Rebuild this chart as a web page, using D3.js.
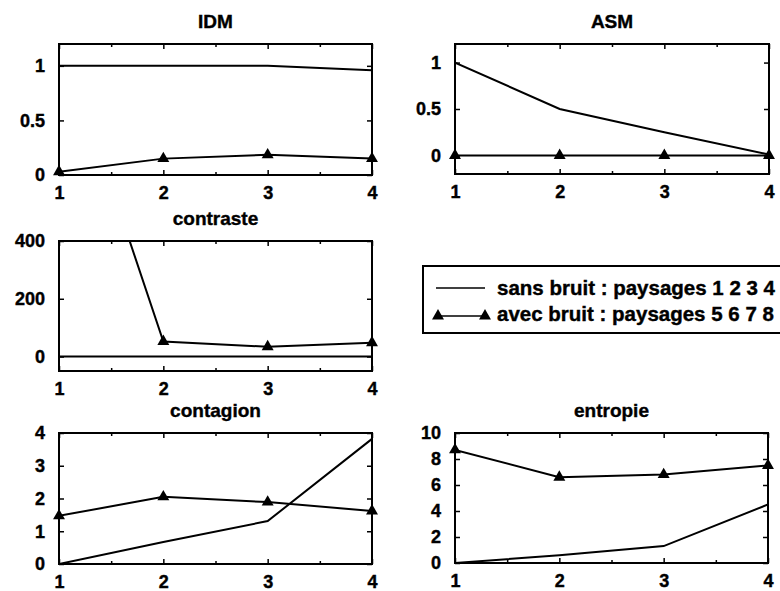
<!DOCTYPE html>
<html>
<head>
  <meta charset="utf-8">
  <title>Indices de texture</title>
  <script src="https://cdn.jsdelivr.net/npm/d3@7"></script>
  <style type="text/css">
    body {
      margin: 0;
      background: white;
    }
    svg {
      font-family: "Liberation Sans", Arial, Helvetica, sans-serif;
      font-weight: bold;
    }
    svg text {
      stroke: black;
      stroke-width: 0.4px;
    }
    .tick text {
      font-size: 18px;
      fill: black;
    }
    .tick line {
      stroke: black;
      stroke-width: 1.5;
    }
  </style>
</head>
<body>
  <div id="chart"></div>

  <script type="text/javascript">
    // x values (paysages)
    var xValues = [1, 2, 3, 4];

    var idmSans = [1, 1, 1, 0.96];
    var idmAvec = [0.03, 0.15, 0.185, 0.15];
    var asmSans = [1, 0.5, 0.25, 0.01];
    var asmAvec = [0, 0, 0, 0];
    var contrasteSans = [0, 0, 0, 0];
    var contrasteAvec = [1130, 52, 34, 48];
    var contagionSans = [0, 0.67, 1.31, 3.82];
    var contagionAvec = [1.47, 2.05, 1.89, 1.62];
    var entropieSans = [0, 0.6, 1.3, 4.5];
    var entropieAvec = [8.7, 6.6, 6.8, 7.5];

    // y tick labels
    var idmTicks = [0, 0.5, 1];
    var asmTicks = [0, 0.5, 1];
    var contrasteTicks = [0, 200, 400];
    var contagionTicks = [0, 1, 2, 3, 4];
    var entropieTicks = [0, 2, 4, 6, 8, 10];

    var legendSans = "sans bruit : paysages 1 2 3 4";
    var legendAvec = "avec bruit : paysages 5 6 7 8";

    var svg = d3.select("#chart").append("svg")
      .attr("width", 780)
      .attr("height", 591);

    var tri = d3.symbol().type(d3.symbolTriangle).size(62);

    function drawPanel(id, title, box, yDomain, yTicks, sans, avec) {
      var x = d3.scaleLinear().domain([1, 4]).range([box.left, box.right]);
      var y = d3.scaleLinear().domain(yDomain).range([box.bottom, box.top]);

      var g = svg.append("g").attr("class", "panel");

      g.append("clipPath").attr("id", "clip-" + id)
        .append("rect")
        .attr("x", box.left).attr("y", box.top)
        .attr("width", box.right - box.left)
        .attr("height", box.bottom - box.top);

      // title
      g.append("text")
        .attr("x", (box.left + box.right) / 2)
        .attr("y", box.top - 16)
        .attr("text-anchor", "middle")
        .style("font-size", "19px")
        .text(title);

      // bottom axis with labels
      var bottom = g.append("g")
        .attr("transform", "translate(0," + box.bottom + ")")
        .call(d3.axisBottom(x).tickValues(xValues).tickSizeInner(-5).tickSizeOuter(0).tickPadding(8).tickFormat(d3.format("d")));
      bottom.selectAll("text").attr("dy", "0.9em");
      g.append("g")
        .attr("transform", "translate(0," + box.bottom + ")")
        .call(d3.axisBottom(x).tickValues([1.5, 2.5, 3.5]).tickSizeInner(-3).tickSizeOuter(0).tickFormat(""));
      g.append("g")
        .attr("transform", "translate(0," + box.top + ")")
        .call(d3.axisTop(x).tickValues(xValues).tickSizeInner(-5).tickSizeOuter(0).tickFormat(""));
      g.append("g")
        .attr("transform", "translate(0," + box.top + ")")
        .call(d3.axisTop(x).tickValues([1.5, 2.5, 3.5]).tickSizeInner(-3).tickSizeOuter(0).tickFormat(""));

      // left axis with labels, right axis ticks only
      g.append("g")
        .attr("transform", "translate(" + box.left + ",0)")
        .call(d3.axisLeft(y).tickValues(yTicks).tickSizeInner(-5).tickSizeOuter(0).tickPadding(14).tickFormat(d3.format("")));
      g.append("g")
        .attr("transform", "translate(" + box.right + ",0)")
        .call(d3.axisRight(y).tickValues(yTicks).tickSizeInner(-5).tickSizeOuter(0).tickFormat(""));

      g.selectAll(".domain").remove();

      // frame
      g.append("rect")
        .attr("x", box.left).attr("y", box.top)
        .attr("width", box.right - box.left)
        .attr("height", box.bottom - box.top)
        .attr("fill", "none")
        .attr("stroke", "black")
        .attr("stroke-width", 2);

      var line = d3.line()
        .x(function (d, i) { return x(xValues[i]); })
        .y(function (d) { return y(d); });

      g.append("path")
        .datum(sans)
        .attr("clip-path", "url(#clip-" + id + ")")
        .attr("d", line)
        .attr("fill", "none")
        .attr("stroke", "black")
        .attr("stroke-width", 2);

      g.append("path")
        .datum(avec)
        .attr("clip-path", "url(#clip-" + id + ")")
        .attr("d", line)
        .attr("fill", "none")
        .attr("stroke", "black")
        .attr("stroke-width", 2);

      // triangles, only those inside the y range
      g.selectAll(".tri")
        .data(avec.map(function (d, i) { return { x: xValues[i], v: d }; })
          .filter(function (d) { return d.v >= yDomain[0] && d.v <= yDomain[1]; }))
        .enter().append("path")
        .attr("class", "tri")
        .attr("d", tri)
        .attr("transform", function (d) { return "translate(" + x(d.x) + "," + y(d.v) + ")"; })
        .attr("fill", "black");
    }

    drawPanel("idm", "IDM", { left: 59, right: 372, top: 44, bottom: 175 }, [0, 1.2], idmTicks, idmSans, idmAvec);
    drawPanel("asm", "ASM", { left: 455, right: 769, top: 44, bottom: 174 }, [-0.2, 1.2], asmTicks, asmSans, asmAvec);
    drawPanel("contraste", "contraste", { left: 59, right: 372, top: 241, bottom: 371 }, [-50, 400], contrasteTicks, contrasteSans, contrasteAvec);
    drawPanel("contagion", "contagion", { left: 59, right: 372, top: 433, bottom: 564 }, [0, 4], contagionTicks, contagionSans, contagionAvec);
    drawPanel("entropie", "entropie", { left: 455, right: 768, top: 433, bottom: 563 }, [0, 10], entropieTicks, entropieSans, entropieAvec);

    // legend
    var legend = svg.append("g").attr("class", "legend");
    legend.append("rect")
      .attr("x", 423).attr("y", 266)
      .attr("width", 380).attr("height", 67)
      .attr("fill", "white")
      .attr("stroke", "black")
      .attr("stroke-width", 2);

    legend.append("line")
      .attr("x1", 436).attr("x2", 485)
      .attr("y1", 288).attr("y2", 288)
      .attr("stroke", "black").attr("stroke-width", 1.5);
    legend.append("line")
      .attr("x1", 438).attr("x2", 485)
      .attr("y1", 316).attr("y2", 316)
      .attr("stroke", "black").attr("stroke-width", 1.5);
    legend.selectAll(".ltri")
      .data([438, 485])
      .enter().append("path")
      .attr("class", "ltri")
      .attr("d", tri)
      .attr("transform", function (d) { return "translate(" + d + ",316)"; })
      .attr("fill", "black");

    legend.append("text")
      .attr("x", 497).attr("y", 295)
      .style("font-size", "20.5px")
      .text(legendSans);
    legend.append("text")
      .attr("x", 497).attr("y", 321)
      .style("font-size", "20.5px")
      .text(legendAvec);
  </script>
</body>
</html>
